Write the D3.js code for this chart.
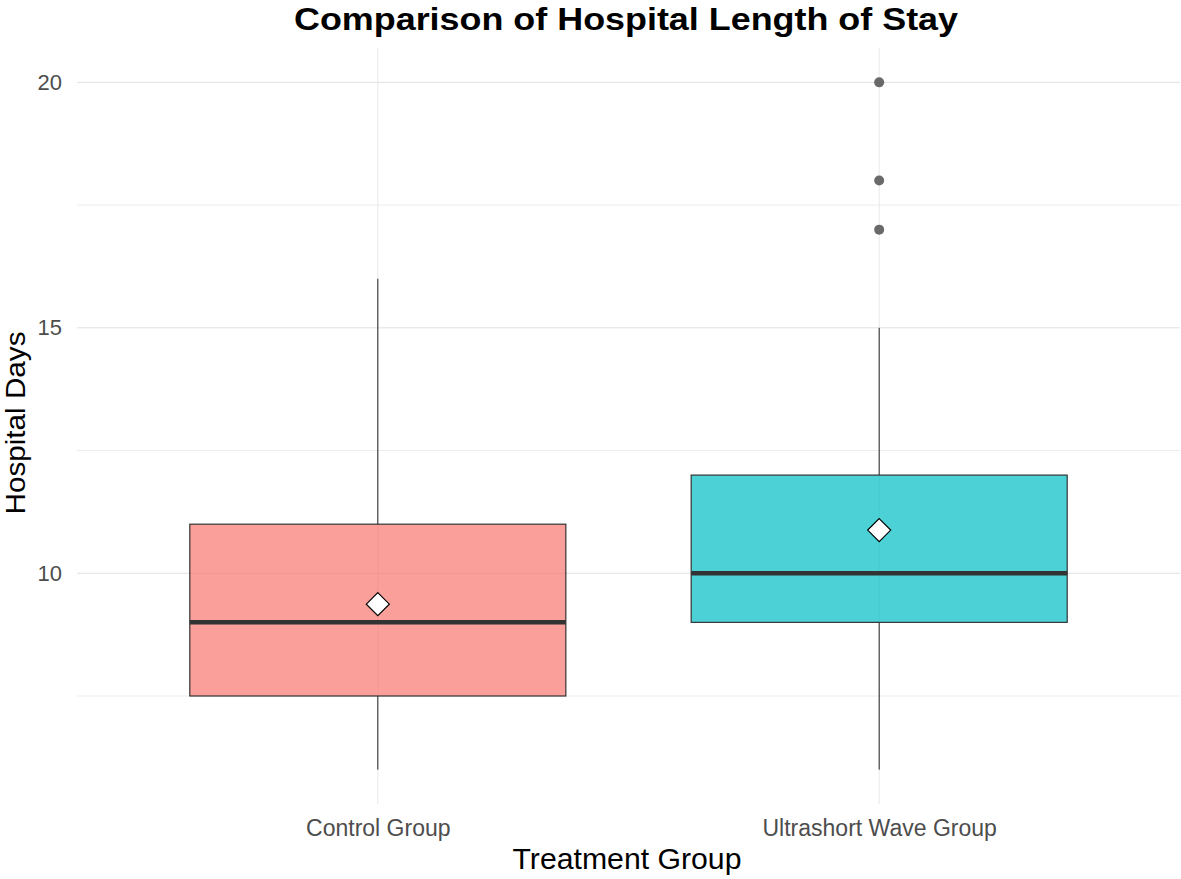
<!DOCTYPE html>
<html>
<head>
<style>
  body { margin: 0; background: #fff; font-family: "Liberation Sans", Arial, sans-serif; }
  svg { display: block; }
</style>
</head>
<body>
<svg id="chart" width="1181" height="879"></svg>
<script src="https://cdnjs.cloudflare.com/ajax/libs/d3/7.8.5/d3.min.js"></script>
<script>
// data
const groups = ["Control Group", "Ultrashort Wave Group"];
const q1 = [7.5, 9];
const medians = [9, 10];
const q3 = [11, 12];
const whiskerLow = [6, 6];
const whiskerHigh = [16, 15];
const means = [9.37, 10.88];
const outlierGroup = ["Ultrashort Wave Group", "Ultrashort Wave Group", "Ultrashort Wave Group"];
const outlierValue = [20, 18, 17];
const fills = ["#F8766D", "#00BFC4"];
const yTicks = [10, 15, 20];
const yMinor = [7.5, 12.5, 17.5];

const svg = d3.select("#chart");
const panelLeft = 77, panelRight = 1180, panelTop = 48, panelBottom = 804;

// discrete x with ggplot-like 0.6 expansion
const x = d3.scalePoint().domain(groups).range([panelLeft, panelRight]).padding(0.6);
const step = x.step();
const boxW = step * 0.75;
const y = d3.scaleLinear().domain([5.3, 20.7]).range([panelBottom, panelTop]);

// grid
const grid = svg.append("g");
grid.selectAll(".minor").data(yMinor).join("line")
  .attr("x1", panelLeft).attr("x2", panelRight)
  .attr("y1", d => y(d)).attr("y2", d => y(d))
  .attr("stroke", "#ececec").attr("stroke-width", 1);
grid.selectAll(".major").data(yTicks).join("line")
  .attr("x1", panelLeft).attr("x2", panelRight)
  .attr("y1", d => y(d)).attr("y2", d => y(d))
  .attr("stroke", "#e0e0e0").attr("stroke-width", 1);
grid.selectAll(".vx").data(groups).join("line")
  .attr("x1", d => x(d)).attr("x2", d => x(d))
  .attr("y1", panelTop).attr("y2", panelBottom)
  .attr("stroke", "#e8e8e8").attr("stroke-width", 1);

// boxes
const box = svg.append("g").selectAll("g").data(groups).join("g");
box.append("line")
  .attr("x1", d => x(d)).attr("x2", d => x(d))
  .attr("y1", (d, i) => y(whiskerHigh[i])).attr("y2", (d, i) => y(q3[i]))
  .attr("stroke", "#222").attr("stroke-width", 1);
box.append("line")
  .attr("x1", d => x(d)).attr("x2", d => x(d))
  .attr("y1", (d, i) => y(q1[i])).attr("y2", (d, i) => y(whiskerLow[i]))
  .attr("stroke", "#222").attr("stroke-width", 1);
box.append("rect")
  .attr("x", d => x(d) - boxW / 2).attr("width", boxW)
  .attr("y", (d, i) => y(q3[i])).attr("height", (d, i) => y(q1[i]) - y(q3[i]))
  .attr("fill", (d, i) => fills[i]).attr("fill-opacity", 0.7)
  .attr("stroke", "#333").attr("stroke-width", 1.2);
box.append("line")
  .attr("x1", d => x(d) - boxW / 2).attr("x2", d => x(d) + boxW / 2)
  .attr("y1", (d, i) => y(medians[i])).attr("y2", (d, i) => y(medians[i]))
  .attr("stroke", "#333").attr("stroke-width", 4.5);

// outliers
svg.append("g").selectAll("circle").data(outlierValue).join("circle")
  .attr("cx", (d, i) => x(outlierGroup[i])).attr("cy", d => y(d))
  .attr("r", 5).attr("fill", "#5a5a5a").attr("fill-opacity", 0.9);

// means
svg.append("g").selectAll("path").data(means).join("path")
  .attr("transform", (d, i) => `translate(${x(groups[i])},${y(d)})`)
  .attr("d", "M0,-11.5L11.5,0L0,11.5L-11.5,0Z")
  .attr("fill", "#fff").attr("stroke", "#000").attr("stroke-width", 1.2);

// axes
const yAxis = d3.axisLeft(y).tickValues(yTicks).tickSize(0).tickPadding(15);
svg.append("g").attr("transform", `translate(${panelLeft},0)`).call(yAxis)
  .call(g => g.select(".domain").remove())
  .selectAll("text").attr("font-size", 22).attr("fill", "#4d4d4d")
  .attr("font-family", "'Liberation Sans', Arial, sans-serif");

const xAxis = d3.axisBottom(x).tickSize(0).tickPadding(16);
svg.append("g").attr("transform", `translate(0,${panelBottom})`).call(xAxis)
  .call(g => g.select(".domain").remove())
  .selectAll("text").attr("font-size", 23).attr("fill", "#4d4d4d")
  .attr("font-family", "'Liberation Sans', Arial, sans-serif");

// titles
svg.append("text").attr("x", 626).attr("y", 30)
  .attr("text-anchor", "middle").attr("font-size", 32).attr("font-weight", "bold")
  .attr("textLength", 664).attr("lengthAdjust", "spacingAndGlyphs")
  .attr("fill", "#000").text("Comparison of Hospital Length of Stay");
svg.append("text").attr("x", 627).attr("y", 869)
  .attr("text-anchor", "middle").attr("font-size", 29).attr("fill", "#000")
  .attr("textLength", 229).attr("lengthAdjust", "spacingAndGlyphs")
  .text("Treatment Group");
svg.append("text").attr("transform", "translate(25,423) rotate(-90)")
  .attr("text-anchor", "middle").attr("font-size", 27).attr("fill", "#000")
  .attr("textLength", 183).attr("lengthAdjust", "spacingAndGlyphs")
  .text("Hospital Days");
</script>
</body>
</html>
